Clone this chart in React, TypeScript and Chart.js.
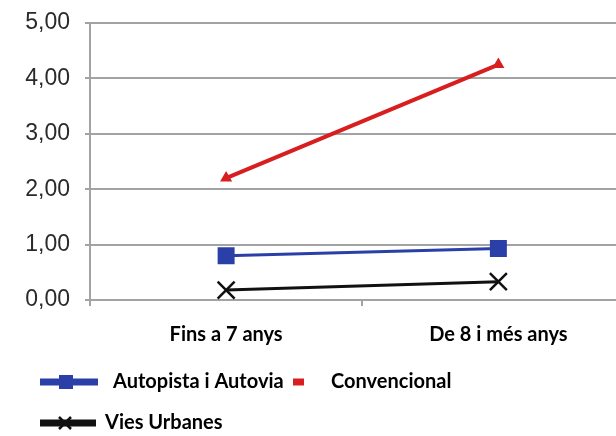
import React, { useEffect, useRef } from "react";
import { Chart, registerables } from "chart.js";

Chart.register(...registerables);

const categories = ["Fins a 7 anys", "De 8 i més anys"];
const autopista = [0.8, 0.93];
const convencional = [2.2, 4.25];
const viesUrbanes = [0.18, 0.33];
const seriesNames = ["Autopista i Autovia", "Convencional", "Vies Urbanes"];
const yMin = 0;
const yMax = 5;
const yStep = 1;

const BLUE = "#2B3FA8";
const RED = "#D81E1E";
const BLACK = "#111111";
const GRID = "#a3a3a3";

const legendFont = "bold 20px Lato, 'Liberation Sans', sans-serif";

function drawMarker(ctx: CanvasRenderingContext2D, style: string, x: number, y: number, color: string) {
  ctx.save();
  ctx.fillStyle = color;
  ctx.strokeStyle = color;
  if (style === "rect") {
    ctx.fillRect(x - 7, y - 7, 14, 14);
  } else if (style === "crossRot") {
    ctx.lineWidth = 2.5;
    ctx.beginPath();
    ctx.moveTo(x - 6, y - 6);
    ctx.lineTo(x + 6, y + 6);
    ctx.moveTo(x + 6, y - 6);
    ctx.lineTo(x - 6, y + 6);
    ctx.stroke();
  }
  ctx.restore();
}

const legendPlugin = {
  id: "customLegend",
  afterDraw(chart: any) {
    const ctx: CanvasRenderingContext2D = chart.ctx;
    const ds = chart.data.datasets;
    const items = [
      { i: 0, x0: 40, x1: 98, tx: 113, y: 382 },
      { i: 1, x0: 293, x1: 304, tx: 331, y: 382 },
      { i: 2, x0: 40, x1: 96, tx: 105, y: 423 },
    ];
    ctx.save();
    for (const it of items) {
      const d = ds[it.i];
      ctx.strokeStyle = d.borderColor;
      ctx.lineWidth = 7;
      ctx.beginPath();
      ctx.moveTo(it.x0, it.y);
      ctx.lineTo(it.x1, it.y);
      ctx.stroke();
      if (it.i !== 1) drawMarker(ctx, d.pointStyle, (it.x0 + it.x1) / 2 - 3, it.y, d.borderColor);
      ctx.fillStyle = "#000";
      ctx.font = legendFont;
      ctx.textBaseline = "middle";
      ctx.textAlign = "left";
      ctx.fillText(d.label, it.tx, it.y);
    }
    ctx.restore();
  },
};

export default function App() {
  const ref = useRef<HTMLCanvasElement>(null);
  useEffect(() => {
    if (!ref.current) return;
    const chart = new Chart(ref.current, {
      type: "line",
      data: {
        labels: categories,
        datasets: [
          {
            label: seriesNames[0],
            data: autopista,
            borderColor: BLUE,
            backgroundColor: BLUE,
            borderWidth: 3,
            pointStyle: "rect",
            pointRadius: 12,
            pointBorderWidth: 0,
          },
          {
            label: seriesNames[1],
            data: convencional,
            borderColor: RED,
            backgroundColor: RED,
            borderWidth: 4,
            pointStyle: "triangle",
            pointRadius: 7,
            pointBorderWidth: 0,
          },
          {
            label: seriesNames[2],
            data: viesUrbanes,
            borderColor: BLACK,
            backgroundColor: BLACK,
            borderWidth: 3,
            pointStyle: "crossRot",
            pointRadius: 12,
            pointBorderWidth: 2.5,
          },
        ],
      },
      options: {
        responsive: false,
        animation: false,
        layout: { padding: { left: 0, right: 5, top: 23, bottom: 0 } },
        plugins: { legend: { display: false }, tooltip: { enabled: false } },
        scales: {
          x: {
            offset: true,
            grid: { offset: true, drawOnChartArea: false, drawTicks: true, tickLength: 6, color: GRID, lineWidth: 2 },
            border: { display: true, color: GRID, width: 2 },
            ticks: { color: "#000", font: { family: "Lato, 'Liberation Sans', sans-serif", size: 20, weight: "bold" }, padding: 17, maxRotation: 0 },
            afterFit: (s: any) => { s.height = 136; s.paddingLeft = 0; s.paddingRight = 0; },
          },
          y: {
            min: yMin,
            max: yMax,
            ticks: {
              stepSize: yStep,
              color: "#2a2a2a",
              font: { family: "'Liberation Sans', Arial, sans-serif", size: 23 },
              padding: 15,
              callback: (v: any) => Number(v).toFixed(2).replace(".", ","),
            },
            grid: { color: GRID, lineWidth: 2, tickLength: 5 },
            border: { display: true, color: GRID, width: 2 },
            afterFit: (s: any) => { s.width = 90; s.paddingTop = 0; s.paddingBottom = 0; },
          },
        },
      },
      plugins: [legendPlugin],
    });
    return () => chart.destroy();
  }, []);
  return (
    <div style={{ position: "absolute", left: 0, top: 0, width: 616, height: 436, overflow: "hidden", background: "#fff" }}>
      <canvas ref={ref} width={649} height={436} />
    </div>
  );
}
